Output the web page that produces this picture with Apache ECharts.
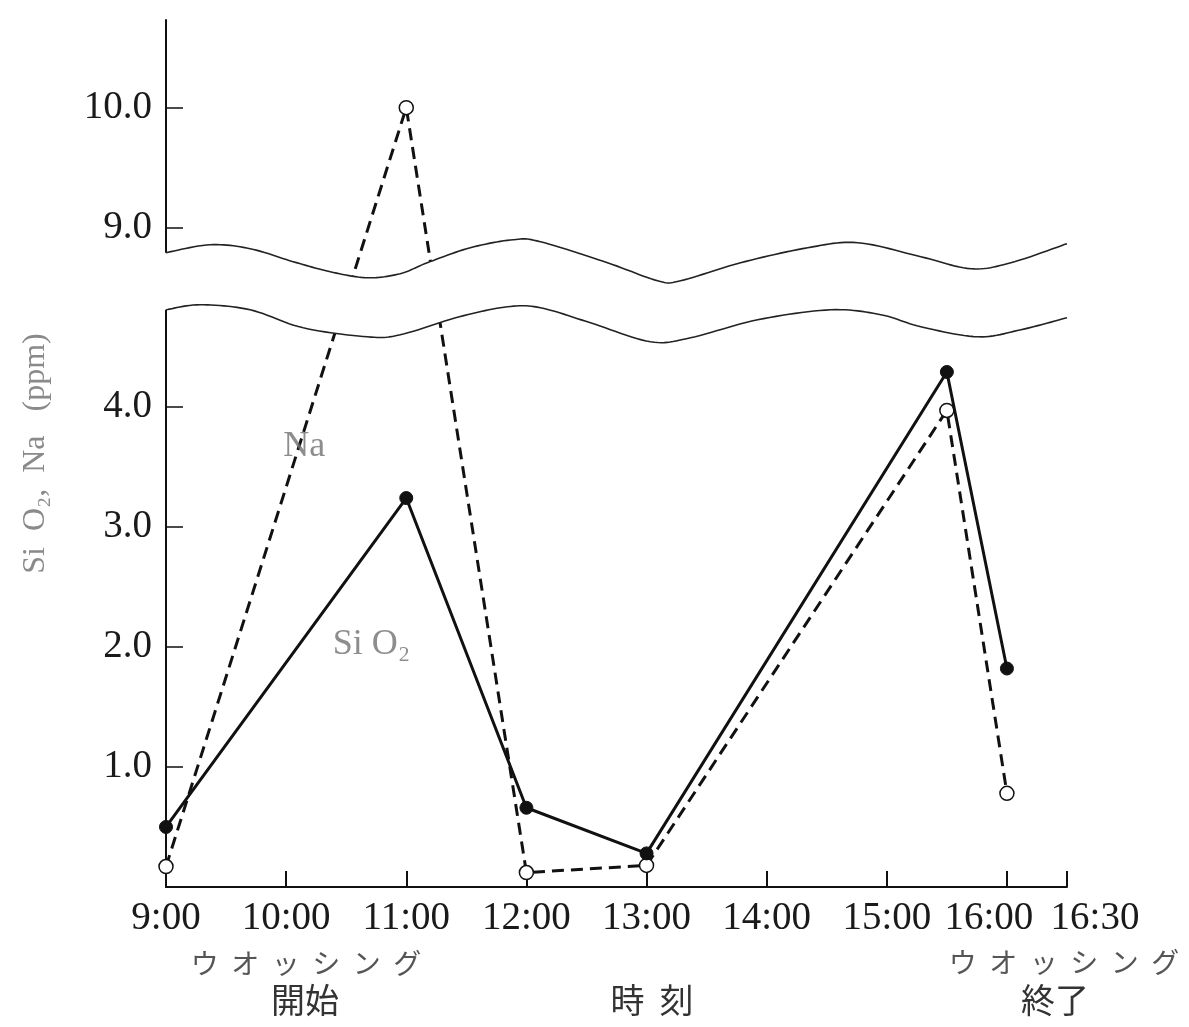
<!DOCTYPE html>
<html>
<head>
<meta charset="utf-8">
<script src="https://cdn.jsdelivr.net/npm/echarts@6/dist/echarts.min.js"></script>
<style>
html,body{margin:0;padding:0;background:#fff;}
#c{width:1189px;height:1027px;}
</style>
</head>
<body>
<div id="c"></div>
<script>
// ---- data (time in hours) ----
const times = [9, 11, 12, 13, 15.5, 16];
const sio2 = [0.50, 3.24, 0.66, 0.28, 4.29, 1.82];
const na = [0.17, 10.0, 0.12, 0.18, 3.97, 0.78];
const yTicks = [1, 2, 3, 4, 9, 10];
const xTicks = [9, 10, 11, 12, 13, 14, 15, 16, 16.5];
// axis break (values)
const breakStart = 4.87, breakEnd = 8.55, breakGap = 0.172;
// wavy break edges (hours, value)
const upperWaveX = [9.0, 9.367, 9.7, 10.058, 10.367, 10.675, 10.95, 11.175, 11.533, 11.892, 12.117, 12.675, 13.092, 13.283, 13.783, 14.342, 14.758, 15.283, 15.7, 16.033, 16.5];
const upperWaveY = [8.792, 8.858, 8.825, 8.717, 8.633, 8.583, 8.617, 8.708, 8.833, 8.9, 8.883, 8.708, 8.558, 8.558, 8.708, 8.833, 8.875, 8.758, 8.658, 8.708, 8.867];
const lowerWaveX = [9.0, 9.283, 9.7, 10.142, 10.675, 10.95, 11.442, 11.842, 12.117, 12.533, 13.033, 13.367, 13.925, 14.533, 14.95, 15.283, 15.758, 16.117, 16.5];
const lowerWaveY = [4.808, 4.85, 4.808, 4.658, 4.583, 4.6, 4.75, 4.833, 4.825, 4.7, 4.542, 4.575, 4.725, 4.808, 4.767, 4.667, 4.583, 4.642, 4.742];
// in-plot series labels
const seriesLabels = [[10.15, 3.67, 'Na'], [10.71, 2.02, 'Si O\u2082']];

const SERIF = '"Liberation Serif","DejaVu Serif",serif';
const JP = '"Noto Sans CJK JP",sans-serif';

function catmull(pts, seg) {
  const out = [];
  for (let i = 0; i < pts.length - 1; i++) {
    const p0 = pts[i - 1] || pts[i], p1 = pts[i], p2 = pts[i + 1], p3 = pts[i + 2] || pts[i + 1];
    for (let t = 0; t < seg; t++) {
      const s = t / seg, s2 = s * s, s3 = s2 * s;
      const f = k => 0.5 * ((2 * p1[k]) + (-p0[k] + p2[k]) * s + (2 * p0[k] - 5 * p1[k] + 4 * p2[k] - p3[k]) * s2 + (-p0[k] + 3 * p1[k] - 3 * p2[k] + p3[k]) * s3);
      out.push([f(0), f(1)]);
    }
  }
  out.push(pts[pts.length - 1]);
  return out;
}

function fmtTime(v) {
  const h = Math.floor(v);
  const m = Math.round((v - h) * 60);
  return h + ':' + (m < 10 ? '0' : '') + m;
}

const chart = echarts.init(document.getElementById('c'), null, {renderer: 'canvas'});
const option = {
  animation: false,
  backgroundColor: '#fff',
  grid: {left: 166, right: 122, top: 20, bottom: 140},
  xAxis: {
    type: 'value',
    min: 9, max: 16.5,
    axisLine: {show: true, lineStyle: {color: '#111', width: 2}},
    axisTick: {show: true, inside: true, length: 16, customValues: xTicks.slice(1), lineStyle: {color: '#111', width: 2}},
    axisLabel: {
      show: true, margin: 12, customValues: xTicks,
      color: '#1a1a1a', fontSize: 39, fontFamily: SERIF,
      formatter: function (v) {
        const t = fmtTime(v);
        if (v === 16) return '{l|' + t + '}';
        if (v === 16.5) return '{r|' + t + '}';
        return t;
      },
      rich: {
        l: {padding: [0, 36, 0, 0], fontSize: 39, fontFamily: SERIF, color: '#1a1a1a'},
        r: {padding: [0, 0, 0, 56], fontSize: 39, fontFamily: SERIF, color: '#1a1a1a'}
      }
    },
    splitLine: {show: false}
  },
  yAxis: {
    type: 'value',
    min: 0, max: 10.73,
    breaks: [{start: breakStart, end: breakEnd, gap: breakGap}],
    breakArea: {show: false, expandOnClick: false},
    axisLine: {show: true, lineStyle: {color: '#111', width: 2}},
    axisTick: {show: true, inside: true, length: 17, customValues: yTicks, lineStyle: {color: '#111', width: 1.5}},
    axisLabel: {
      show: true, margin: 14, customValues: yTicks,
      color: '#1a1a1a', fontSize: 39, fontFamily: SERIF,
      formatter: v => v.toFixed(1)
    },
    splitLine: {show: false},
    name: 'Si  O\u2082,  Na   (ppm)',
    nameLocation: 'middle',
    nameRotate: 90,
    nameGap: 114,
    nameTextStyle: {color: '#8a8a8a', fontSize: 32, fontFamily: SERIF}
  },
  series: [
    {
      name: 'Na', type: 'line', z: 3,
      data: times.map((t, i) => [t, na[i]]),
      symbol: 'circle', symbolSize: 14,
      lineStyle: {color: '#111', width: 3, type: [12, 7]},
      itemStyle: {color: '#fff', borderColor: '#111', borderWidth: 1.5}
    },
    {
      name: 'SiO2', type: 'line', z: 4,
      data: times.map((t, i) => [t, sio2[i]]),
      symbol: 'circle', symbolSize: 13,
      lineStyle: {color: '#111', width: 3},
      itemStyle: {color: '#111', borderColor: '#111', borderWidth: 1}
    },
    {
      name: 'break', type: 'custom', z: 10, clip: false, silent: true,
      data: [[9, 1]],
      renderItem: function (params, api) {
        if (params.dataIndex !== 0) return;
        const up = upperWaveX.map((x, i) => api.coord([x, upperWaveY[i]]));
        const lo = lowerWaveX.map((x, i) => api.coord([x, lowerWaveY[i]]));
        const upD = catmull(up, 12);
        const loD = catmull(lo, 12);
        const poly = [[upD[0][0] - 4, upD[0][1]]].concat(upD, loD.slice().reverse(), [[loD[0][0] - 4, loD[0][1]]]);
        return {
          type: 'group',
          children: [
            {type: 'polygon', shape: {points: poly}, style: {fill: '#fff', stroke: null}},
            {type: 'polyline', shape: {points: upD}, style: {fill: null, stroke: '#222', lineWidth: 1.6}},
            {type: 'polyline', shape: {points: loD}, style: {fill: null, stroke: '#222', lineWidth: 1.6}}
          ]
        };
      }
    },
    {
      name: 'labels', type: 'scatter', z: 5, silent: true,
      symbolSize: 0,
      data: seriesLabels,
      label: {
        show: true, position: 'inside',
        formatter: p => p.value[2],
        color: '#707070', fontSize: 36, fontFamily: SERIF
      }
    }
  ],
  graphic: [
    {type: 'text', x: 306, y: 963, style: {text: 'ウ  オ  ッ  シ  ン  グ', font: '28px ' + JP, fill: '#555', align: 'center', verticalAlign: 'middle'}},
    {type: 'text', x: 305, y: 1000, style: {text: '開始', font: '34px ' + JP, fill: '#333', align: 'center', verticalAlign: 'middle'}},
    {type: 'text', x: 652, y: 1000, style: {text: '時  刻', font: '34px ' + JP, fill: '#333', align: 'center', verticalAlign: 'middle'}},
    {type: 'text', x: 1064, y: 962, style: {text: 'ウ  オ  ッ  シ  ン  グ', font: '28px ' + JP, fill: '#555', align: 'center', verticalAlign: 'middle'}},
    {type: 'text', x: 1055, y: 1000, style: {text: '終了', font: '34px ' + JP, fill: '#333', align: 'center', verticalAlign: 'middle'}}
  ]
};
chart.setOption(option);
</script>
</body>
</html>
